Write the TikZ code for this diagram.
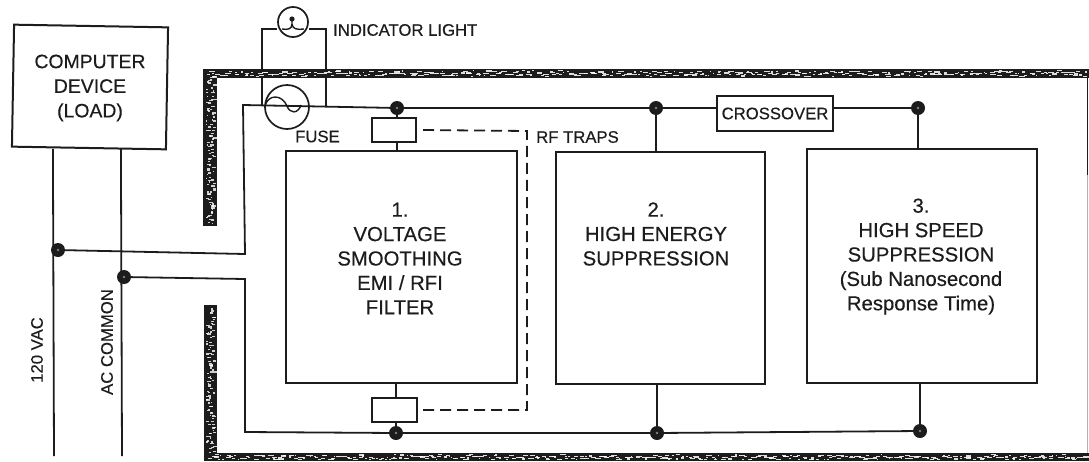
\documentclass[tikz,border=0pt]{standalone}
\usepackage{fontspec}
\setmainfont[FakeBold=0.35]{Liberation Sans}
\definecolor{ink}{HTML}{1C1C1C}
\newcommand{\speckh}[3]{% x-start x-end ymid
  \pgfmathtruncatemacro{\nxt}{#1+5}%
  \foreach \k in {#1,\nxt,...,#2}{%
    \pgfmathsetmacro{\xa}{\k+rnd*4}%
    \pgfmathsetmacro{\ya}{#3+(rnd-0.5)*4.5}%
    \pgfmathsetmacro{\wa}{1+rnd*5}%
    \fill[white,opacity=.85] (\xa,\ya) rectangle ++(\wa,1.1);}}
\newcommand{\speckv}[3]{% y-start y-end xmid
  \pgfmathtruncatemacro{\nxt}{#1+3}%
  \foreach \k in {#1,\nxt,...,#2}{%
    \pgfmathsetmacro{\ya}{\k+rnd*3}%
    \pgfmathsetmacro{\xa}{#3+(rnd-0.5)*8-1}%
    \pgfmathsetmacro{\wa}{1+rnd*3}%
    \fill[white,opacity=.8] (\xa,\ya) rectangle ++(\wa,1.3);}}
\tikzset{
  wire/.style={draw=ink,line width=1.8pt},
  trapwire/.style={draw=ink,line width=1.8pt,dash pattern=on 11pt off 6pt},
  boxnode/.style={draw=ink,line width=2pt,rectangle,inner sep=0pt,fill=white},
  dot/.style={circle,fill=ink,inner sep=0pt,minimum size=14pt,
    path picture={\fill[gray] (path picture bounding box.center) circle (1.4pt);}},
  small/.style={font=\fontsize{16.7}{20}\selectfont,text=ink,inner sep=0pt},
  big/.style={font=\fontsize{20.3}{24.4}\selectfont,text=ink,align=center,inner sep=0pt},
  frame/.style={fill=ink,draw=none},
}
\begin{document}
\begin{tikzpicture}[x=1pt,y=-1pt]
\useasboundingbox (0,0) rectangle (1089,461);
\pgfmathsetseed{4711}
% coordinates of the wire corners
\coordinate (lineTL) at (243,105);
\coordinate (lineBL) at (245,254);
\coordinate (comTL) at (245,279);
\coordinate (comBL) at (245,432);
\coordinate (hotEnd) at (54,456);
\coordinate (comEnd) at (122,456);
\coordinate (lampL) at (262,29);
\coordinate (lampR) at (326,29);
\coordinate (lampLd) at (262,105);
\coordinate (lampRd) at (326,106);
\coordinate (dashA) at (527,131);
\coordinate (dashB) at (527,410);
% nodes
\node[boxnode,rotate=-1,minimum width=154pt,minimum height=122pt] (load) at (90,87) {};
\node[big,font=\fontsize{19.4}{24.6}\selectfont] (loadtext) at (90,88) {COMPUTER\\DEVICE\\(LOAD)};
\node[boxnode,minimum width=231pt,minimum height=232pt] (box1) at (401.5,267) {};
\node[boxnode,minimum width=209pt,minimum height=232pt] (box2) at (660.5,268) {};
\node[boxnode,minimum width=230pt,minimum height=234pt] (box3) at (922,266) {};
\node[big] (text1) at (400,258.5) {1.\\VOLTAGE\\SMOOTHING\\EMI / RFI\\FILTER};
\node[big] (text2) at (656,234) {2.\\HIGH ENERGY\\SUPPRESSION};
\node[big] (text3) at (921,256.5) {3.\\HIGH SPEED\\SUPPRESSION\\(Sub Nanosecond\\Response Time)};
\node[boxnode,minimum width=44pt,minimum height=24pt] (trapT) at (394,130) {};
\node[boxnode,minimum width=45pt,minimum height=24pt] (trapB) at (394.5,410) {};
\node[boxnode,minimum width=116pt,minimum height=35pt] (cross) at (775,113.5) {};
\node[small] (crosstext) at (775,113.5) {CROSSOVER};
\node[dot] (d120) at (58,250) {};
\node[dot] (dcom) at (124,277) {};
\node[dot] (dT1) at (397,108) {};
\node[dot] (dT2) at (656,108) {};
\node[dot] (dT3) at (918,108) {};
\node[dot] (dB1) at (396,433) {};
\node[dot] (dB2) at (657,433) {};
\node[dot] (dB3) at (920,431) {};
\node[circle,draw=ink,line width=1.7pt,minimum size=30pt,inner sep=0pt] (lamp) at (293,22) {};
\node[circle,draw=ink,line width=1.7pt,minimum size=44pt,inner sep=0pt] (fuse) at (287,107) {};
\node[small,anchor=west] (indtext) at (333,30) {INDICATOR LIGHT};
\node[small,anchor=west] (fusetext) at (295,136.5) {FUSE};
\node[small,anchor=west] (rftext) at (536,137) {RF TRAPS};
\node[small,rotate=90] (vac) at (37,350) {120 VAC};
\node[small,rotate=90] (ac) at (107,342) {AC COMMON};
% connectors
\draw[wire] ([xshift=-36pt]load.south) -- (hotEnd);
\draw[wire] ([xshift=32pt]load.south) -- (comEnd);
\draw[wire] (d120) -- (lineBL) -- (lineTL) -- (dT1);
\draw[wire] (dcom) -- (comTL) -- (comBL) -- (dB1);
\draw[wire] (dT1) -- (dT2) -- (dT2 -| cross.west);
\draw[wire] (dT3 -| cross.east) -- (dT3) -- (box3.north -| dT3);
\draw[wire] (dT2) -- (box2.north -| dT2);
\draw[wire] (dT1 |- trapT.south) -- (dT1 |- box1.north);
\draw[wire] (dT1) -- (dT1 |- trapT.north);
\draw[wire] (dB1 |- box1.south) -- (dB1 |- trapB.north);
\draw[wire] (dB1 |- trapB.south) -- (dB1);
\draw[wire] (dB1) -- (dB2) -- (dB3);
\draw[wire] (dB2 |- box2.south) -- (dB2);
\draw[wire] (dB3 |- box3.south) -- (dB3);
\draw[wire] (lampLd) -- (lampL) -- (lamp.west |- lampL);
\draw[wire] (lampRd) -- (lampR) -- (lamp.east |- lampR);
\draw[trapwire] ([xshift=6pt]trapT.east) -- (dashA) -- (dashB) -- ([xshift=4pt]trapB.east);
% lamp filament
\draw[wire,line width=1.4pt] (282,29) .. controls (288,30) and (292,29) .. (292,24) -- (292,19);
\draw[wire,line width=1.4pt] (304,29) .. controls (297,30) and (292.5,29) .. (292,24);
\fill[ink] (292,19) circle (2.6);
% fuse sine
\draw[wire,line width=1.4pt] (265,106) .. controls (268,94) and (282,94) .. (287,106)
  .. controls (290,114) and (298,114) .. (301,105);
% frame
\fill[frame] (203,69) rectangle (1089,77.5);
\fill[frame] (203,69) rectangle (217,226);
\fill[frame] (204,305) rectangle (217,453);
\fill[frame] (204,453) rectangle (1089,461);
\draw[draw=ink,line width=1.1pt] (1087.5,77) -- (1087.5,175);
\draw[draw=gray!60,line width=1pt] (1087.5,175) -- (1087.5,453);
\speckh{206}{1085}{72.5}
\speckh{208}{1085}{73.5}
\speckh{206}{1085}{457}
\speckh{208}{1085}{456.5}
\speckv{72}{224}{210.5}
\speckv{73}{224}{210.5}
\speckv{308}{450}{210.5}
\speckv{309}{450}{210.5}
\end{tikzpicture}
\end{document}
